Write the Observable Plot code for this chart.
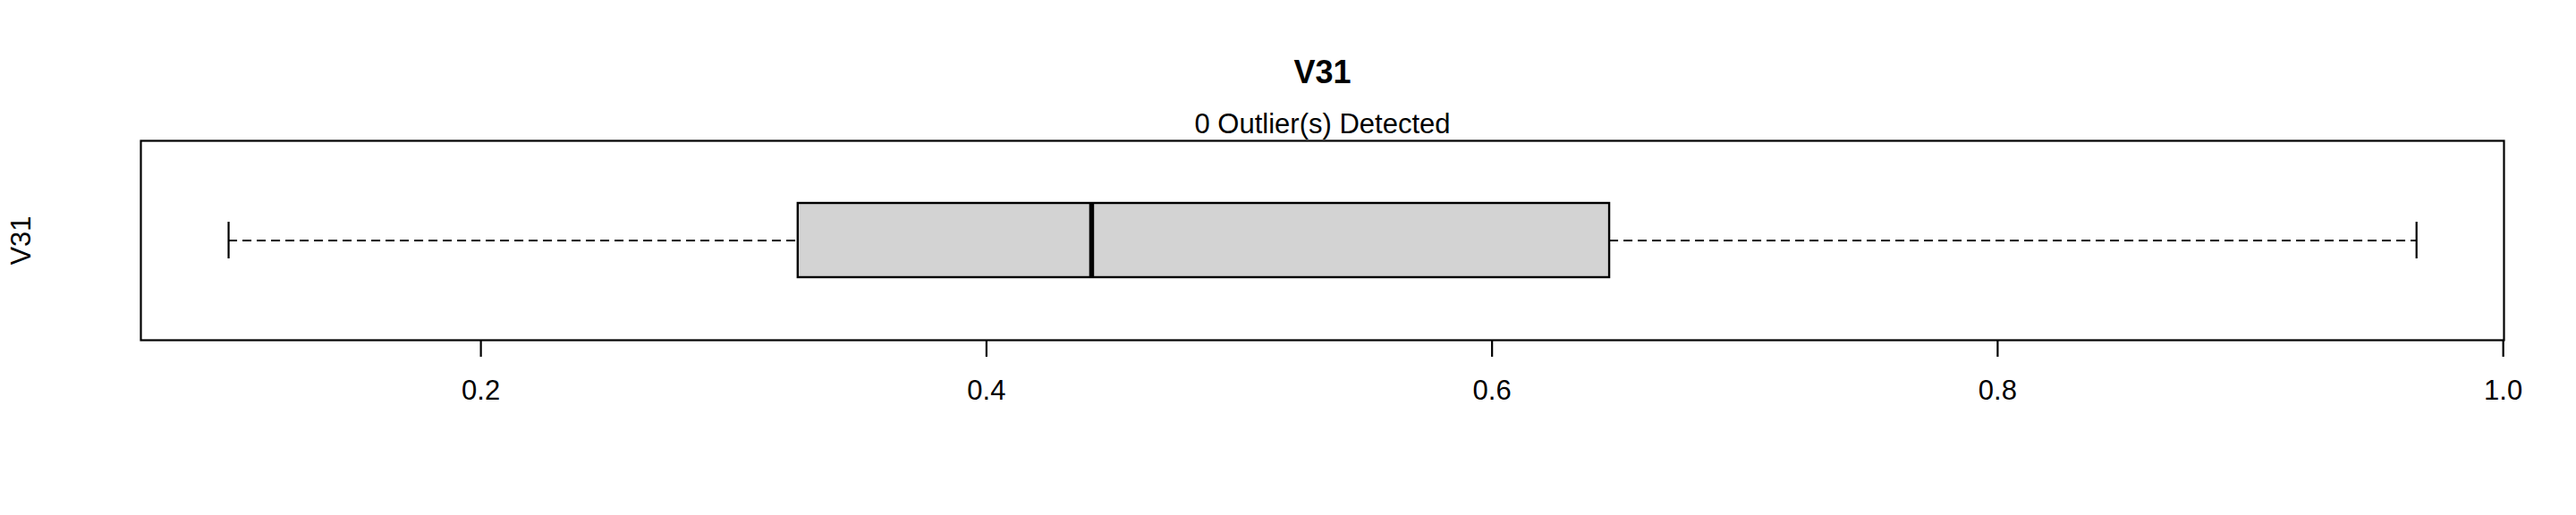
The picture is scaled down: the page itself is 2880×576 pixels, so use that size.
<!DOCTYPE html>
<html>
<head>
<meta charset="utf-8">
<script src="https://cdn.jsdelivr.net/npm/d3@7"></script>
<script src="https://cdn.jsdelivr.net/npm/@observablehq/plot@0.6"></script>
<style>
  html, body { margin: 0; padding: 0; background: #fff; }
  #chart svg { display: block; }
</style>
</head>
<body>
<div id="chart"></div>
<script>
// Data
const variableNames = ["V31"];
const mins = [0.1002];
const q1s = [0.3255];
const medians = [0.4416];
const q3s = [0.6465];
const maxs = [0.9657];
const outlierCounts = [0];
const xTicks = [0.2, 0.4, 0.6, 0.8, 1.0];
const xDomain = [0.0655, 1.0003];

const title = variableNames[0];
const subtitle = `${outlierCounts[0]} Outlier(s) Detected`;

const rows = variableNames.map((name, i) => ({
  name, min: mins[i], q1: q1s[i], median: medians[i], q3: q3s[i], max: maxs[i]
}));

const font = "'Liberation Sans', Arial, sans-serif";

const chart = Plot.plot({
  width: 2880,
  height: 576,
  marginTop: 157,
  marginBottom: 196,
  marginLeft: 157,
  marginRight: 81,
  style: { fontFamily: font, fontSize: "31px", color: "#000", background: "#fff" },
  x: { domain: xDomain, label: null },
  y: { domain: variableNames, paddingInner: 0, paddingOuter: 0.843, axis: null },
  marks: [
    Plot.frame({ stroke: "#000", strokeWidth: 2.2 }),
    // whiskers
    Plot.ruleY(rows, { y: "name", x1: "min", x2: "q1", stroke: "#000", strokeWidth: 2.2, strokeDasharray: "10,6" }),
    Plot.ruleY(rows, { y: "name", x1: "q3", x2: "max", stroke: "#000", strokeWidth: 2.2, strokeDasharray: "10,6" }),
    // staples
    Plot.tickX(rows, { x: "min", y: "name", stroke: "#000", strokeWidth: 2.2, insetTop: 21, insetBottom: 21 }),
    Plot.tickX(rows, { x: "max", y: "name", stroke: "#000", strokeWidth: 2.2, insetTop: 21, insetBottom: 21 }),
    // box
    Plot.barX(rows, { y: "name", x1: "q1", x2: "q3", fill: "#D3D3D3", stroke: "#000", strokeWidth: 2.4 }),
    // median
    Plot.tickX(rows, { x: "median", y: "name", stroke: "#000", strokeWidth: 5.5 }),
    // x axis
    Plot.axisX({ ticks: xTicks, tickFormat: d3.format(".1f"), tickSize: 19, tickPadding: 25, strokeWidth: 2.2, fontSize: 31, label: null }),
    // title and subtitle
    Plot.text([title], { text: d => d, frameAnchor: "top", lineAnchor: "middle", dy: -76, fontSize: 36, fontWeight: "bold", fill: "#000" }),
    Plot.text([subtitle], { text: d => d, frameAnchor: "top", lineAnchor: "bottom", dy: -9, fontSize: 31, fill: "#000" }),
    // y label
    Plot.text(variableNames, { text: d => d, frameAnchor: "left", textAnchor: "middle", lineAnchor: "middle", dx: -133, rotate: -90, fontSize: 31, fill: "#000" })
  ]
});

document.getElementById("chart").appendChild(chart);
</script>
</body>
</html>
